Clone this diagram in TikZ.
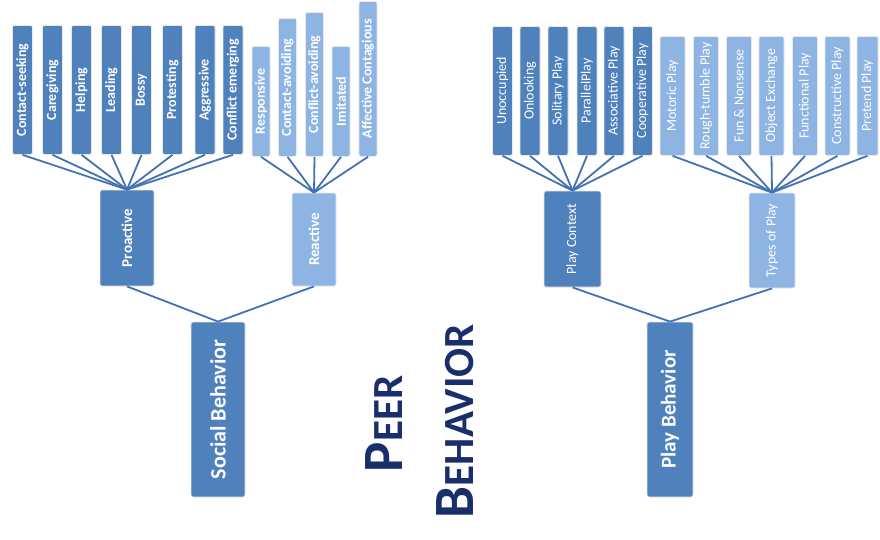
\documentclass[tikz,border=0pt]{standalone}
\usepackage{fontspec}
\setmainfont{Carlito}
\usepackage{graphicx}
\usepackage{tikz}

\definecolor{darkbox}{HTML}{4F81BD}
\definecolor{lightbox}{HTML}{8EB4E3}
\definecolor{fanline}{HTML}{4272B2}
\definecolor{titleblue}{HTML}{1B2E6C}
\newcommand{\vtext}[1]{\rotatebox{90}{#1}}
\newcommand{\fsz}[1]{\fontsize{#1}{#1}\selectfont}

\begin{document}
\begin{tikzpicture}[
    x=1pt, y=-1pt,
    box/.style={rectangle,rounded corners=2pt,draw=white!82!gray,line width=0.8pt,
                text=white,inner sep=1pt},
    dbox/.style={box,fill=darkbox},
    lbox/.style={box,fill=lightbox},
    fan/.style={fanline,line width=1.8pt},
    ttl/.style={text=titleblue,font=\bfseries,rotate=90,anchor=base,inner sep=0pt},
  ]
  \useasboundingbox (0,0) rectangle (880,539);

  % roots
  \node[dbox,font=\bfseries\fsz{22},minimum width=54pt,minimum height=175pt] (soc) at (218,409.5) {\vtext{Social Behavior}};
  \node[dbox,font=\bfseries\fsz{21},minimum width=46pt,minimum height=175pt] (play) at (670,409.5) {\vtext{Play Behavior}};

  % second level
  \node[dbox,font=\bfseries\fsz{15},minimum width=54pt,minimum height=96pt] (pro) at (127,238) {\vtext{Proactive}};
  \node[lbox,font=\bfseries\fsz{15},minimum width=44pt,minimum height=93pt] (rea) at (314,239.5) {\vtext{Reactive}};
  \node[dbox,font=\fsz{14},minimum width=57pt,minimum height=96pt] (ctx) at (572.5,239) {\vtext{Play Context}};
  \node[lbox,font=\fsz{14},minimum width=46pt,minimum height=95pt] (typ) at (772,240.5) {\vtext{Types of Play}};

  \draw[fan] (pro.south) -- (soc.north);
  \draw[fan] (rea.south) -- (soc.north);
  \draw[fan] (ctx.south) -- (play.north);
  \draw[fan] (typ.south) -- (play.north);

  % proactive leaves
  \foreach \i/\x/\t in {1/22.5/Contact-seeking,2/52.5/Caregiving,3/81.5/Helping,
                        4/111.5/Leading,5/141.5/Bossy,6/172.5/Protesting,
                        7/205/Aggressive,8/233/Conflict emerging}{
    \node[dbox,font=\bfseries\fsz{14},minimum width=20pt,minimum height=129pt,anchor=north] (pa\i) at (\x,25) {\vtext{\t}};
    \draw[fan] (pa\i.south) -- (pro.north);
  }

  % reactive leaves (tops differ)
  \foreach \i/\x/\tp/\t in {1/261/46/Responsive,2/287.5/18/Contact-avoiding,
                            3/314.5/12/Conflict-avoiding,4/341/46/Imitated,
                            5/368/1/Affective Contagious}{
    \node[lbox,font=\bfseries\fsz{14},minimum width=18pt,minimum height={(156-\tp)*1pt},anchor=north] (re\i) at (\x,\tp) {\vtext{\t}};
    \draw[fan] (re\i.south) -- (rea.north);
  }

  % play context leaves
  \foreach \i/\x/\t in {1/502.5/Unoccupied,2/530/Onlooking,3/558/Solitary Play,
                        4/587/ParallelPlay,5/614/Associative Play,6/642.5/Cooperative Play}{
    \node[dbox,font=\fsz{14},minimum width=20pt,minimum height=129pt,anchor=north] (pc\i) at (\x,26) {\vtext{\t}};
    \draw[fan] (pc\i.south) -- (ctx.north);
  }

  % types of play leaves
  \foreach \i/\x/\w/\t in {1/672.5/25/Motoric Play,2/706/25/Rough-tumble Play,
                           3/739/25/Fun \& Nonsense,4/771.5/25/Object Exchange,
                           5/805/25/Functional Play,6/837.5/25/Constructive Play,
                           7/867.5/21/Pretend Play}{
    \node[lbox,font=\fsz{14},minimum width=\w pt,minimum height=119pt,anchor=north] (tp\i) at (\x,36) {\vtext{\t}};
    \draw[fan] (tp\i.south) -- (typ.north);
  }

  % title
  \node[ttl] (peer) at (402,424) {{\fsz{57}P}{\fsz{43}EER}};
  \node[ttl] (beh) at (473,421) {{\fsz{57}B}{\fsz{43}EHAVIOR}};

\end{tikzpicture}
\end{document}
